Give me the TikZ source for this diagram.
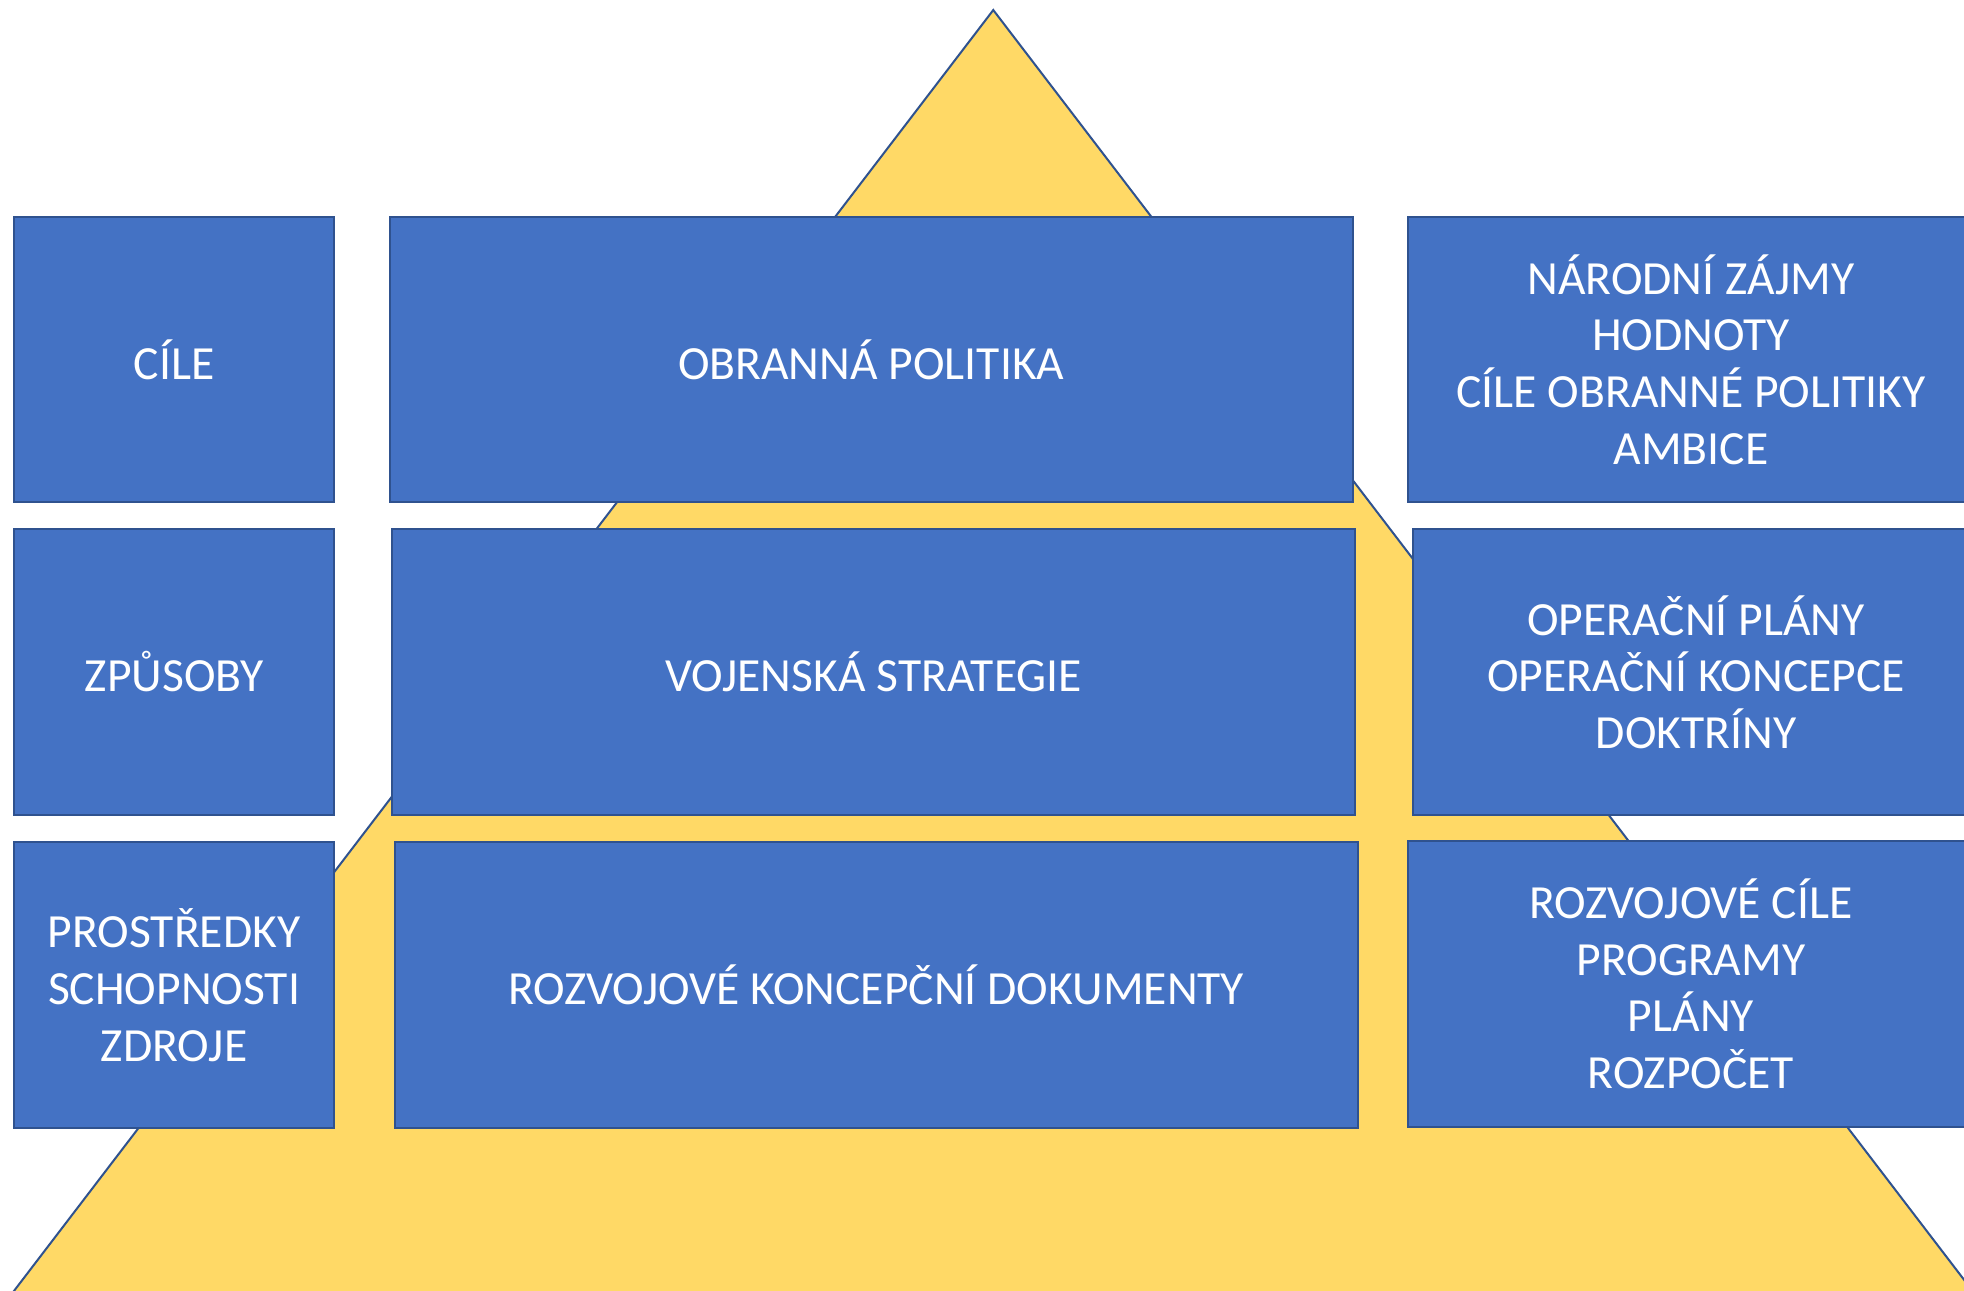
\documentclass[tikz,border=0pt]{standalone}
\usepackage{fontspec}
\setmainfont{Carlito}
\usepackage{tikz}
\definecolor{boxblue}{HTML}{4472C4}
\definecolor{edgeblue}{HTML}{2F528F}
\definecolor{pyryellow}{HTML}{FFD966}

\begin{document}
\begin{tikzpicture}[x=0.5pt,y=-0.5pt,
  box/.style={draw=edgeblue,fill=boxblue,line width=0.8pt,inner sep=0pt,
    text=white,align=center,font=\fontsize{19}{22.6}\selectfont,
    minimum height=114pt},
  sidebox/.style={box,minimum width=128pt},
  midbox/.style={box,minimum width=384.5pt},
  infobox/.style={box,minimum width=226pt}]
  \path[use as bounding box,clip] (0,0) rectangle (1568,1030);
  % pyramid in the background
  \filldraw[fill=pyryellow,draw=edgeblue,line width=0.8pt]
    (793,8) -- (4,1040) -- (1582,1040) -- cycle;
  % left column
  \node[sidebox] (CIL) at (139,287) {CÍLE};
  \node[sidebox] (ZPU) at (139,536.5) {ZPŮSOBY};
  \node[sidebox] (PRO) at (139,786.5) {PROSTŘEDKY\\SCHOPNOSTI\\ZDROJE};
  % middle column
  \node[midbox] (OBR) at (695.5,287) {OBRANNÁ POLITIKA};
  \node[midbox] (VOJ) at (697.5,536.5) {VOJENSKÁ STRATEGIE};
  \node[midbox] (ROZ) at (699.5,786.5) {ROZVOJOVÉ KONCEPČNÍ DOKUMENTY};
  % right column
  \node[infobox] (NAR) at (1350,287)
    {NÁRODNÍ ZÁJMY\\HODNOTY\\CÍLE OBRANNÉ POLITIKY\\AMBICE};
  \node[infobox] (OPE) at (1354,536.5)
    {OPERAČNÍ PLÁNY\\OPERAČNÍ KONCEPCE\\DOKTRÍNY};
  \node[infobox] (RCI) at (1350,785.5)
    {ROZVOJOVÉ CÍLE\\PROGRAMY\\PLÁNY\\ROZPOČET};
\end{tikzpicture}
\end{document}
